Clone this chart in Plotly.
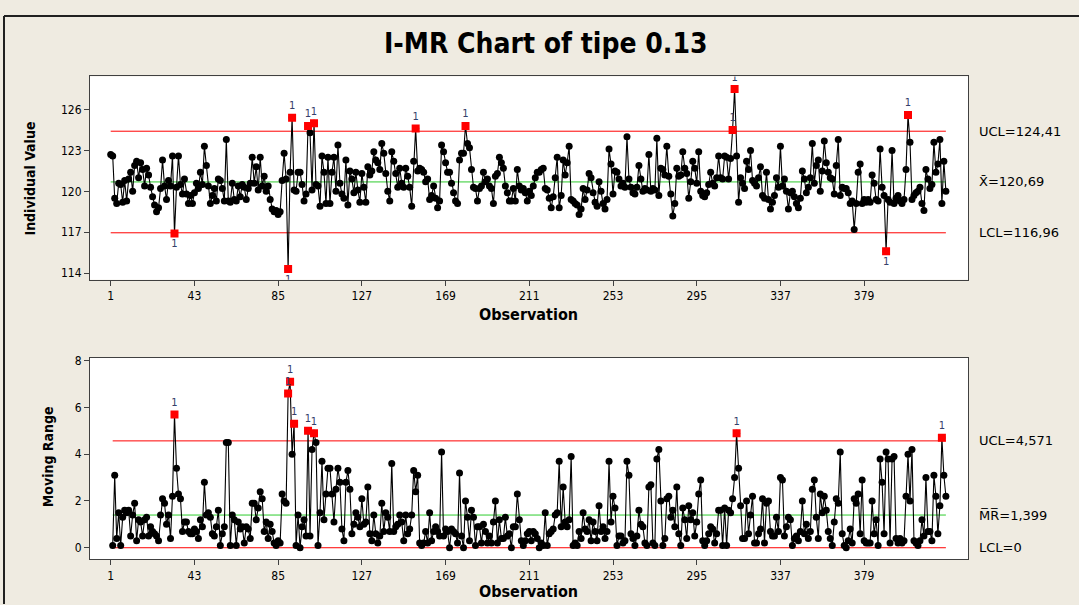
import plotly.graph_objects as go

# ---------------- data ----------------
ind_values = [
    122.7, 122.6, 119.5, 119.1, 120.6, 120.5, 119.2, 120.8, 119.3, 120.9,
    121.4, 120.0, 121.9, 122.2, 121.0, 122.1, 121.6, 120.4, 121.7, 121.2,
    120.3, 119.6, 119.0, 118.5, 118.8, 120.2, 122.3, 120.4, 119.4, 120.8,
    120.4, 122.6, 116.9, 120.3, 122.6, 120.5, 119.8, 120.9, 119.8, 119.1,
    119.7, 119.1, 119.9, 120.6, 120.2, 121.4, 120.5, 123.3, 121.9, 120.4,
    119.1, 119.7, 120.2, 119.3, 120.9, 120.8, 120.2, 119.3, 123.8, 119.3,
    119.2, 120.6, 119.4, 119.3, 120.4, 119.6, 120.5, 120.3, 119.4, 120.2,
    120.6, 122.5, 120.6, 121.8, 120.1, 122.5, 120.4, 121.1, 120.0, 120.4,
    119.4, 118.7, 118.5, 118.6, 118.3, 118.5, 120.8, 122.8, 120.9, 114.3,
    121.4, 125.4, 120.1, 120.0, 121.4, 121.4, 120.5, 119.3, 119.8, 124.8,
    124.3, 120.1, 125.0, 120.5, 120.4, 118.9, 122.6, 121.4, 119.1, 122.5,
    119.1, 121.4, 122.5, 120.0, 123.4, 120.6, 119.8, 119.5, 122.3, 119.0,
    121.5, 120.9, 119.9, 121.4, 120.1, 119.2, 121.3, 120.3, 119.2, 121.8,
    121.2, 121.5, 122.9, 122.3, 122.1, 121.6, 123.5, 122.8, 121.3, 120.0,
    119.3, 122.9, 122.2, 121.3, 120.3, 121.7, 120.6, 120.3, 121.7, 121.1,
    120.3, 118.9, 122.2, 124.6, 121.5, 121.7, 121.6, 121.4, 120.7, 120.9,
    119.4, 119.7, 120.4, 119.5, 118.8, 119.3, 123.4, 122.9, 122.1, 121.4,
    121.4, 120.6, 119.9, 119.3, 119.1, 122.3, 122.8, 122.8, 124.8, 123.5,
    123.2, 121.6, 120.3, 120.2, 119.3, 120.2, 120.4, 121.4, 120.7, 120.9,
    120.4, 120.2, 119.1, 121.1, 121.3, 122.5, 122.1, 121.7, 120.4, 119.9,
    119.3, 119.3, 120.2, 119.3, 121.6, 120.4, 120.1, 120.2, 119.9, 119.3,
    120.0, 119.7, 120.4, 121.0, 121.4, 121.4, 121.6, 121.7, 120.2, 120.1,
    119.5, 118.8, 119.6, 121.0, 122.5, 118.8, 119.7, 122.3, 121.2, 122.1,
    123.3, 119.4, 119.3, 119.1, 119.0, 118.3, 118.7, 120.2, 119.4, 120.1,
    121.3, 121.0, 119.9, 119.2, 118.9, 120.7, 120.0, 119.1, 118.7, 119.4,
    123.1, 122.0, 119.8, 121.5, 121.4, 120.9, 120.4, 120.6, 120.3, 124.0,
    120.9, 120.3, 119.9, 119.8, 120.3, 121.9, 120.9, 120.0, 120.2, 120.1,
    122.7, 120.0, 120.2, 120.1, 123.9, 119.7, 121.7, 121.6, 121.2, 123.3,
    121.1, 119.8, 118.2, 119.1, 121.7, 121.1, 121.2, 122.9, 121.7, 121.3,
    119.5, 120.7, 122.2, 121.7, 120.6, 122.9, 120.0, 119.7, 119.6, 119.9,
    120.5, 121.4, 120.6, 120.4, 121.0, 122.6, 121.0, 120.9, 122.6, 122.5,
    120.9, 122.4, 124.5, 127.5, 122.6, 119.2, 121.0, 120.6, 120.2, 122.2,
    121.6, 123.0, 120.8, 120.6, 120.4, 121.0, 121.8, 119.7, 119.5, 121.4,
    119.4, 118.7, 119.2, 119.7, 121.0, 120.3, 123.3, 120.4, 120.9, 120.0,
    118.7, 119.9, 120.0, 119.6, 119.1, 118.8, 119.5, 121.5, 120.9, 119.9,
    120.3, 121.0, 123.5, 120.6, 121.9, 122.3, 120.0, 121.5, 123.7, 122.1,
    121.4, 121.0, 120.9, 119.8, 121.9, 123.8, 119.7, 120.3, 120.2, 120.2,
    119.9, 119.1, 119.3, 117.2, 119.1, 121.4, 122.0, 119.1, 119.4, 119.2,
    119.4, 119.2, 121.2, 120.6, 119.4, 119.3, 123.1, 120.3, 119.7, 115.6,
    119.4, 119.2, 123.0, 119.1, 119.5, 119.7, 119.3, 119.1, 119.4, 121.6,
    125.6, 123.6, 119.4, 119.7, 119.9, 120.0, 120.3, 119.1, 118.6, 121.6,
    120.9, 120.2, 120.5, 123.6, 121.4, 122.0, 123.8, 119.1, 122.2, 120.0,
]

# moving ranges, observations 2..420
mr_values = [
    0.1, 3.1, 0.4, 1.5, 0.1, 1.3, 1.6, 1.5, 1.6,
    0.5, 1.4, 1.9, 0.3, 1.2, 1.1, 0.5, 1.2, 1.3, 0.5,
    0.9, 0.7, 0.6, 0.5, 0.3, 1.4, 2.1, 1.9, 1.0, 1.4,
    0.4, 2.2, 5.7, 3.4, 2.3, 2.1, 0.7, 1.1, 1.1, 0.7,
    0.6, 0.6, 0.8, 0.7, 0.4, 1.2, 0.9, 2.8, 1.4, 1.5,
    1.3, 0.6, 0.5, 0.9, 1.6, 0.1, 0.6, 0.9, 4.5, 4.5,
    0.1, 1.4, 1.2, 0.1, 1.1, 0.8, 0.9, 0.2, 0.9, 0.8,
    0.4, 1.9, 1.9, 1.2, 1.7, 2.4, 2.1, 0.7, 1.1, 0.4,
    1.0, 0.7, 0.2, 0.1, 0.3, 0.2, 2.3, 2.0, 1.9, 6.6,
    7.1, 4.0, 5.3, 0.1, 1.4, 0.0, 0.9, 1.2, 0.5, 5.0,
    0.5, 4.2, 4.9, 4.5, 0.1, 1.5, 3.7, 1.2, 2.3, 3.4,
    3.4, 2.3, 1.1, 2.5, 3.4, 2.8, 0.8, 0.3, 2.8, 3.3,
    2.5, 0.6, 1.0, 1.5, 1.3, 0.9, 2.1, 1.0, 1.1, 2.6,
    0.6, 0.3, 1.4, 0.6, 0.2, 0.5, 1.9, 0.7, 1.5, 1.3,
    0.7, 3.6, 0.7, 0.9, 1.0, 1.4, 1.1, 0.3, 1.4, 0.6,
    0.8, 1.4, 3.3, 2.4, 3.1, 0.2, 0.1, 0.2, 0.7, 0.2,
    1.5, 0.3, 0.7, 0.9, 0.7, 0.5, 4.1, 0.5, 0.8, 0.7,
    0.0, 0.8, 0.7, 0.6, 0.2, 3.2, 0.5, 0.0, 2.0, 1.3,
    0.3, 1.6, 1.3, 0.1, 0.9, 0.9, 0.2, 1.0, 0.7, 0.2,
    0.5, 0.2, 1.1, 2.0, 0.2, 1.2, 0.4, 0.4, 1.3, 0.5,
    0.6, 0.0, 0.9, 0.9, 2.3, 1.2, 0.3, 0.1, 0.3, 0.6,
    0.7, 0.3, 0.7, 0.6, 0.4, 0.0, 0.2, 0.1, 1.5, 0.1,
    0.6, 0.7, 0.8, 1.4, 1.5, 3.7, 0.9, 2.6, 1.1, 0.9,
    1.2, 3.9, 0.1, 0.2, 0.1, 0.7, 0.4, 1.5, 0.8, 0.7,
    1.2, 0.3, 1.1, 0.7, 0.3, 1.8, 0.7, 0.9, 0.4, 0.7,
    3.7, 1.1, 2.2, 1.7, 0.1, 0.5, 0.5, 0.2, 0.3, 3.7,
    3.1, 0.6, 0.4, 0.1, 0.5, 1.6, 1.0, 0.9, 0.2, 0.1,
    2.6, 2.7, 0.2, 0.1, 3.8, 4.2, 2.0, 0.1, 0.4, 2.1,
    2.2, 1.3, 1.6, 0.9, 2.6, 0.6, 0.1, 1.7, 1.2, 0.4,
    1.8, 1.2, 1.5, 0.5, 1.1, 2.3, 2.9, 0.3, 0.1, 0.3,
    0.6, 0.9, 0.8, 0.2, 0.6, 1.6, 1.6, 0.1, 1.7, 0.1,
    1.6, 1.5, 2.1, 3.0, 4.9, 3.4, 1.8, 0.4, 0.4, 2.0,
    0.6, 1.4, 2.2, 0.2, 0.2, 0.6, 0.8, 2.1, 0.2, 1.9,
    2.0, 0.7, 0.5, 0.5, 1.3, 0.7, 3.0, 2.9, 0.5, 0.9,
    1.3, 1.2, 0.1, 0.4, 0.5, 0.3, 0.7, 2.0, 0.6, 1.0,
    0.4, 0.7, 2.5, 2.9, 1.3, 0.4, 2.3, 1.5, 2.2, 1.6,
    0.7, 0.4, 0.1, 1.1, 2.1, 1.9, 4.1, 0.6, 0.1, 0.0,
    0.3, 0.8, 0.2, 2.1, 1.9, 2.3, 0.6, 2.9, 0.3, 0.2,
    0.2, 0.2, 2.0, 0.6, 1.2, 0.1, 3.8, 2.8, 0.6, 4.1,
    3.8, 0.2, 3.8, 3.9, 0.4, 0.2, 0.4, 0.2, 0.3, 2.2,
    4.0, 2.0, 4.2, 0.3, 0.2, 0.1, 0.3, 1.2, 0.5, 3.0,
    0.7, 0.7, 0.3, 3.1, 2.2, 0.6, 1.8, 4.7, 3.1, 2.2,
]

i_limits = {"UCL": 124.41, "CL": 120.69, "LCL": 116.96}
mr_limits = {"UCL": 4.571, "CL": 1.399, "LCL": 0.0}
i_limit_labels = ["UCL=124,41", "X\u0304=120,69", "LCL=116,96"]
mr_limit_labels = ["UCL=4,571", "M\u0305R\u0305=1,399", "LCL=0"]
x_ticks = [1, 43, 85, 127, 169, 211, 253, 295, 337, 379]
i_ticks = [114, 117, 120, 123, 126]
mr_ticks = [0, 2, 4, 6, 8]
title_text = "I-MR Chart of tipe 0.13"

# ---------------- figure ----------------
W, H = 1079, 605
obs = list(range(1, len(ind_values) + 1))
mr_obs = obs[1:]

COND = "DejaVu Sans Condensed, Liberation Sans Narrow, DejaVu Sans, sans-serif"
NORM = "DejaVu Sans, Verdana, sans-serif"
RED = "#FF0000"
GREEN = "#2ECC2E"
BEIGE = "#EFEBE1"


def fx(p):
    return p / W


def fy(p):
    return 1 - p / H


fig = go.Figure()


def add_chart(xs, ys, limits, xa, ya):
    x0, x1 = xs[0], xs[-1]
    for key, col in (("UCL", RED), ("LCL", RED), ("CL", GREEN)):
        fig.add_trace(go.Scatter(x=[x0, x1], y=[limits[key], limits[key]], mode="lines",
                                 line=dict(color=col, width=1), xaxis=xa, yaxis=ya,
                                 hoverinfo="skip", showlegend=False))
    fig.add_trace(go.Scatter(x=xs, y=ys, mode="lines+markers",
                             line=dict(color="#000000", width=1.1),
                             marker=dict(symbol="circle", size=7, color="#000000"),
                             xaxis=xa, yaxis=ya, hoverinfo="skip", showlegend=False))
    hx, hy, lx, ly = [], [], [], []
    for x, y in zip(xs, ys):
        if y > limits["UCL"]:
            hx.append(x); hy.append(y)
        elif y < limits["LCL"]:
            lx.append(x); ly.append(y)
    for px_, py_, pos in ((hx, hy, "top center"), (lx, ly, "bottom center")):
        if px_:
            fig.add_trace(go.Scatter(x=px_, y=py_, mode="markers+text", text=["1"] * len(px_),
                                     textposition=pos,
                                     textfont=dict(family=NORM, size=10, color="#34406A"),
                                     marker=dict(symbol="square", size=8, color=RED),
                                     xaxis=xa, yaxis=ya, hoverinfo="skip", showlegend=False))


add_chart(obs, ind_values, i_limits, "x", "y")
add_chart(mr_obs, mr_values, mr_limits, "x2", "y2")

axis_common = dict(showgrid=False, zeroline=False, showline=True, mirror=True,
                   linecolor="#404040", linewidth=1, ticks="outside", ticklen=5,
                   tickcolor="#404040", tickfont=dict(family=COND, size=12, color="#000000"))

xr = [-9.39, 431.1]
fig.update_layout(
    width=W, height=H,
    margin=dict(l=0, r=0, t=0, b=0),
    paper_bgcolor=BEIGE, plot_bgcolor="#FFFFFF",
    showlegend=False,
    xaxis=dict(domain=[fx(90), fx(968)], range=xr, tickvals=x_ticks, anchor="y", **axis_common),
    yaxis=dict(domain=[fy(278), fy(73)], range=[113.52, 128.43], tickvals=i_ticks, anchor="x",
               **axis_common),
    xaxis2=dict(domain=[fx(90), fx(968)], range=xr, tickvals=x_ticks, anchor="y2", **axis_common),
    yaxis2=dict(domain=[fy(560), fy(357)], range=[-0.497, 8.114], tickvals=mr_ticks, anchor="x2",
                **axis_common),
)

ann = []
ann.append(dict(text="<b>" + title_text + "</b>", x=fx(545), y=fy(40), xref="paper", yref="paper",
                showarrow=False, xanchor="center", yanchor="middle",
                font=dict(family=COND, size=28, color="#000000")))
for yy in (313, 592):
    ann.append(dict(text="<b>Observation</b>", x=fx(528), y=fy(yy), xref="paper", yref="paper",
                    showarrow=False, xanchor="center", yanchor="middle",
                    font=dict(family=COND, size=16, color="#000000")))
ann.append(dict(text="<b>Individual Value</b>", x=fx(30), y=fy(176), xref="paper", yref="paper",
                showarrow=False, textangle=-90, xanchor="center", yanchor="middle",
                font=dict(family=COND, size=14, color="#000000")))
ann.append(dict(text="<b>Moving Range</b>", x=fx(48), y=fy(457), xref="paper", yref="paper",
                showarrow=False, textangle=-90, xanchor="center", yanchor="middle",
                font=dict(family=COND, size=14, color="#000000")))
for lab, key in zip(i_limit_labels, ("UCL", "CL", "LCL")):
    ann.append(dict(text=lab, x=fx(977), y=i_limits[key], xref="paper", yref="y",
                    showarrow=False, xanchor="left", yanchor="middle",
                    font=dict(family=NORM, size=13, color="#000000")))
for lab, key in zip(mr_limit_labels, ("UCL", "CL", "LCL")):
    ann.append(dict(text=lab, x=fx(977), y=mr_limits[key], xref="paper", yref="y2",
                    showarrow=False, xanchor="left", yanchor="middle",
                    font=dict(family=NORM, size=13, color="#000000")))
fig.update_layout(annotations=ann)

# outer window frame
fig.add_shape(type="line", xref="paper", yref="paper", x0=fx(4), x1=fx(4), y0=fy(12), y1=0,
              line=dict(color="#202020", width=2))
fig.add_shape(type="line", xref="paper", yref="paper", x0=fx(4), x1=1, y0=fy(12), y1=fy(12),
              line=dict(color="#202020", width=2))

fig.write_html("out.html")
